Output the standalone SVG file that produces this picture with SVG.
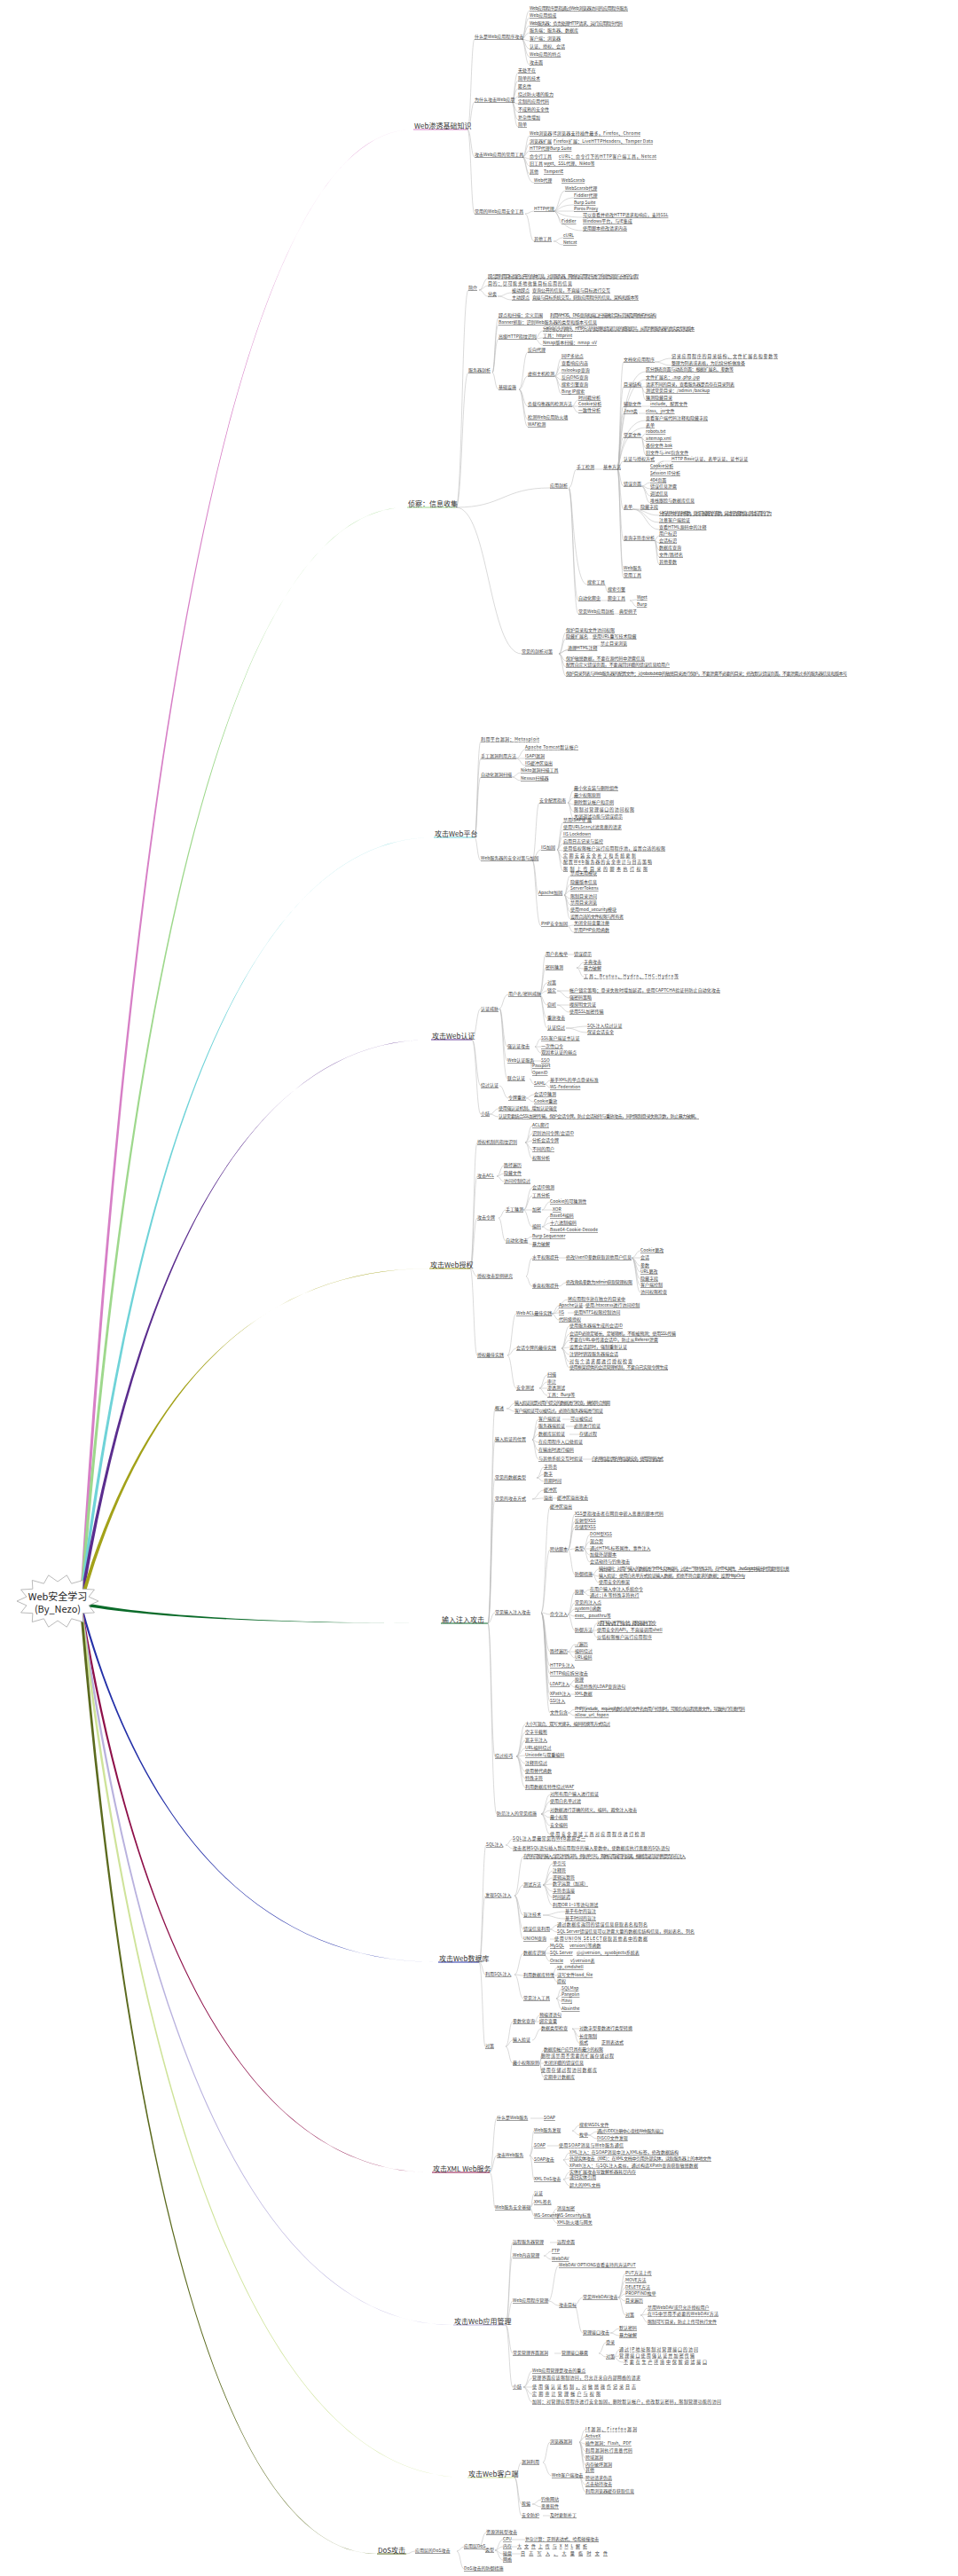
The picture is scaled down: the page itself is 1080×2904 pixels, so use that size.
<svg xmlns="http://www.w3.org/2000/svg" width="1080" height="2904" viewBox="0 0 1080 2904">
<style>
text{font-family:"Noto Sans CJK SC","Noto Sans",sans-serif;fill:#3a3a3a}
.t{font-size:5px;text-decoration:underline}
.m{font-size:8px;fill:#333}
.r{font-size:11px;fill:#222}
.c{fill:none;stroke:#b5b5b5;stroke-width:.5}
.u{fill:none;stroke-width:1}
</style>
<rect width="1080" height="2904" fill="#fff"/>
<g id="branches">
<path fill="#d77fc6" d="M93.6 1799.6C149 889 260 145.5 466 146C260 146.5 147 889 90.4 1796.4Z"/>
<path fill="#9ed88c" d="M93.6 1799.6C148 1124 257 571.5 459 572C257 572.5 146 1124 90.4 1796.4Z"/>
<path fill="#6fd3d8" d="M93.6 1801.6C153 1329 271 943.5 489 944C271 944.5 151 1329 90.4 1798.4Z"/>
<path fill="#5b2d8e" d="M93.6 1803.6C152 1455 269 1171.5 486 1172C269 1172.5 150 1455 90.4 1800.4Z"/>
<path fill="#a3a21a" d="M93.6 1805.6C152 1598 268 1429.5 484 1430C268 1430.5 150 1598 90.4 1802.4Z"/>
<path fill="#0b6b2a" d="M92 1810C153 1821 274 1830.5 497 1830C274 1829.5 153 1819 92 1806Z"/>
<path fill="#2430a8" d="M93.6 1813.6C153 2032 273 2211.5 494 2212C273 2212.5 151 2032 90.4 1810.4Z"/>
<path fill="#8e1049" d="M93.6 1815.6C152 2163 270 2448.5 487 2449C270 2449.5 150 2163 90.4 1812.4Z"/>
<path fill="#b9b2de" d="M93.6 1817.6C156 2259 281 2620.5 511 2621C281 2621.5 154 2259 90.4 1814.4Z"/>
<path fill="#cfe39a" d="M93.6 1819.6C158 2354 288 2792.5 527 2793C288 2793.5 156 2354 90.4 1816.4Z"/>
<path fill="#5b6a1e" d="M93.6 1821.6C143 2402 242 2878.5 425 2879C242 2879.5 141 2402 90.4 1818.4Z"/>
<path class="u" stroke="#d77fc6" d="M466 146H527"/>
<path class="u" stroke="#9ed88c" d="M459 572H514"/>
<path class="u" stroke="#6fd3d8" d="M489 944H535"/>
<path class="u" stroke="#5b2d8e" d="M486 1172H532"/>
<path class="u" stroke="#a3a21a" d="M484 1430H530"/>
<path class="u" stroke="#0b6b2a" d="M497 1830H550"/>
<path class="u" stroke="#2430a8" d="M494 2212H540"/>
<path class="u" stroke="#8e1049" d="M487 2449H552"/>
<path class="u" stroke="#b9b2de" d="M511 2621H570"/>
<path class="u" stroke="#cfe39a" d="M527 2793H580"/>
<path class="u" stroke="#5b6a1e" d="M425 2879H458"/>
</g>
<g id="connectors" class="c">
<path d="M527 146C531 146 531 44 535 44M527 146C531 146 531 115 535 115M527 146C531 146 531 177 535 177M527 146C531 146 531 241 535 241M588 44C592 44 592 12 597 12M588 44C592 44 592 20 597 20M588 44C592 44 592 29 597 29M588 44C592 44 592 37 597 37M588 44C592 44 592 46 597 46M588 44C592 44 592 55 597 55M588 44C592 44 592 64 597 64M588 44C592 44 592 73 597 73M577 115C580 115 580 82 584 82M577 115C580 115 580 91 584 91M577 115C580 115 580 100 584 100M577 115C580 115 580 109 584 109M577 115C580 115 580 117 584 117M577 115C580 115 580 126 584 126M577 115C580 115 580 135 584 135M577 115C580 115 580 143 584 143M589 177C593 177 593 153 597 153M589 177C593 177 593 162 597 162M589 177C593 177 593 170 597 170M589 177C593 177 593 179 597 179M589 177C593 177 593 187 597 187M589 177C593 177 593 196 597 196M589 177C593 177 593 206 602 206M592 241C597 241 597 238 602 238M592 241C597 241 597 272 602 272M624 238C630 238 630 215 637 215M624 238C630 238 630 223 647 223M624 238C630 238 630 231 647 231M624 238C630 238 630 238 647 238M624 238C630 238 630 245 657 245M624 238C630 238 630 252 633 252M624 238C630 238 630 260 657 260M624 272C629 272 629 268 635 268M624 272C629 272 629 276 635 276"/>
<path d="M514 572C521 572 521 327 528 327M514 572C521 572 521 420 528 420M514 572C567 572 567 550 620 550M514 572C551 572 551 737 588 737M540 327C545 327 545 314 550 314M540 327C545 327 545 322 550 322M540 327C545 327 545 334 550 334M561 334C569 334 569 330 577 330M561 334C569 334 569 338 577 338M555 420C558 420 558 358 562 358M555 420C558 420 558 366 562 366M555 420C558 420 558 382 562 382M555 420C558 420 558 439 562 439M603 382C607 382 607 373 612 373M603 382C607 382 607 381 612 381M603 382C607 382 607 389 612 389M585 439C590 439 590 397 595 397M585 439C590 439 590 424 595 424M585 439C590 439 590 458 595 458M585 439C590 439 590 473 595 473M585 439C590 439 590 481 595 481M625 424C629 424 629 404 633 404M625 424C629 424 629 412 633 412M625 424C629 424 629 420 633 420M625 424C629 424 629 428 633 428M625 424C629 424 629 436 633 436M625 424C629 424 629 444 633 444M645 458C648 458 648 451 652 451M645 458C648 458 648 458 652 458M645 458C648 458 648 465 652 465M641 550C646 550 646 529 650 529M641 550C646 550 646 659 662 659M641 550C646 550 646 677 652 677M641 550C646 550 646 692 652 692M696 529C699 529 699 408 703 408M696 529C699 529 699 419 728 419M696 529C699 529 699 428 728 428M696 529C699 529 699 436 703 436M696 529C699 529 699 458 703 458M696 529C699 529 699 466 703 466M696 529C699 529 699 474 728 474M696 529C699 529 699 482 728 482M696 529C699 529 699 493 703 493M696 529C699 529 699 520 703 520M696 529C699 529 699 548 703 548M696 529C699 529 699 574 703 574M696 529C699 529 699 609 703 609M696 529C699 529 699 643 703 643M696 529C699 529 699 651 703 651M738 408C747 408 747 404 757 404M738 408C747 408 747 412 757 412M723 436H728M723 436C725 436 725 443 728 443M723 436C725 436 725 451 728 451M723 458H733M720 466H728M723 493C725 493 725 489 728 489M723 493C725 493 725 497 728 497M723 493C725 493 725 505 728 505M723 493C725 493 725 513 728 513M748 520H757M748 520C740 520 740 528 733 528M748 520C740 520 740 536 733 536M723 548C728 548 728 544 733 544M723 548C728 548 728 551 733 551M723 548C728 548 728 559 733 559M723 548C728 548 728 567 733 567M713 574H722M713 574C728 574 728 581 743 581M713 574C728 574 728 589 743 589M713 574C728 574 728 597 743 597M738 609C740 609 740 604 743 604M738 609C740 609 740 612 743 612M738 609C740 609 740 620 743 620M738 609C740 609 740 628 743 628M738 609C740 609 740 636 743 636M682 659C683 659 683 667 685 667M677 677H685M710 677C714 677 714 676 718 676M710 677C714 677 714 684 718 684M690 692H698M670 529H680M630 737C634 737 634 713 638 713M630 737C634 737 634 720 638 720M630 737C634 737 634 733 640 733M630 737C634 737 634 728 677 728M630 737C634 737 634 745 638 745M630 737C634 737 634 752 638 752M630 737C634 737 634 762 638 762M663 720H668"/>
<path d="M535 944C538 944 538 836 542 836M535 944C538 944 538 855 542 855M535 944C538 944 538 876 542 876M535 944C538 944 538 970 542 970M582 855C587 855 587 845 592 845M582 855C587 855 587 855 592 855M582 855C587 855 587 863 592 863M577 876C582 876 582 871 587 871M577 876C582 876 582 880 587 880M600 970C604 970 604 905 608 905M600 970C604 970 604 958 610 958M600 970C604 970 604 1009 607 1009M600 970C604 970 604 1044 610 1044M640 905C643 905 643 891 647 891M640 905C643 905 643 899 647 899M640 905C643 905 643 907 647 907M640 905C643 905 643 915 647 915M640 905C643 905 643 923 647 923M628 958C631 958 631 927 635 927M628 958C631 958 631 935 635 935M628 958C631 958 631 943 635 943M628 958C631 958 631 951 635 951M628 958C631 958 631 959 635 959M628 958C631 958 631 967 635 967M628 958C631 958 631 974 635 974M628 958C631 958 631 982 635 982M636 1009C639 1009 639 987 643 987M636 1009C639 1009 639 997 643 997M636 1009C639 1009 639 1004 643 1004M636 1009C639 1009 639 1013 643 1013M636 1009C639 1009 639 1020 643 1020M636 1009C639 1009 639 1028 643 1028M636 1009C639 1009 639 1036 643 1036M640 1044C643 1044 643 1043 647 1043M640 1044C643 1044 643 1051 647 1051"/>
<path d="M532 1172C537 1172 537 1137 542 1137M532 1172C537 1172 537 1224 542 1224M532 1172C537 1172 537 1256 542 1256M563 1137C567 1137 567 1121 573 1121M563 1137C567 1137 567 1180 572 1180M563 1137C567 1137 567 1196 572 1196M563 1137C567 1137 567 1216 572 1216M608 1121C612 1121 612 1076 615 1076M608 1121C612 1121 612 1091 615 1091M608 1121C612 1121 612 1108 617 1108M608 1121C612 1121 612 1117 617 1117M608 1121C612 1121 612 1133 617 1133M608 1121C612 1121 612 1148 617 1148M608 1121C612 1121 612 1159 617 1159M640 1076H647M650 1091C654 1091 654 1085 658 1085M650 1091C654 1091 654 1092 658 1092M650 1091C654 1091 654 1101 658 1101M628 1117H642M628 1117C635 1117 635 1125 642 1125M628 1133H642M628 1133C635 1133 635 1141 642 1141M638 1159C650 1159 650 1157 662 1157M638 1159C650 1159 650 1164 662 1164M603 1180C606 1180 606 1171 610 1171M603 1180C606 1180 606 1180 610 1180M603 1180C606 1180 606 1187 610 1187M598 1196H610M598 1196C599 1196 599 1202 600 1202M598 1196C599 1196 599 1210 600 1210M597 1216C599 1216 599 1222 602 1222M614 1222C617 1222 617 1218 620 1218M614 1222C617 1222 617 1226 620 1226M563 1224C568 1224 568 1238 573 1238M593 1238C597 1238 597 1234 602 1234M593 1238C597 1238 597 1242 602 1242M552 1256C557 1256 557 1250 562 1250M552 1256C557 1256 557 1259 562 1259"/>
<path d="M530 1430C534 1430 534 1288 538 1288M530 1430C534 1430 534 1326 538 1326M530 1430C534 1430 534 1373 538 1373M530 1430C534 1430 534 1439 538 1439M530 1430C534 1430 534 1528 538 1528M592 1288C596 1288 596 1269 600 1269M592 1288C596 1288 596 1278 600 1278M592 1288C596 1288 596 1286 600 1286M592 1288C596 1288 596 1296 600 1296M592 1288C596 1288 596 1306 600 1306M560 1326C564 1326 564 1314 568 1314M560 1326C564 1326 564 1323 568 1323M560 1326C564 1326 564 1332 568 1332M562 1373C566 1373 566 1364 570 1364M562 1373C566 1373 566 1399 570 1399M590 1364C595 1364 595 1339 600 1339M590 1364C595 1364 595 1348 600 1348M590 1364C595 1364 595 1364 600 1364M590 1364C595 1364 595 1383 600 1383M611 1364C615 1364 615 1355 620 1355M611 1364H623M611 1383C615 1383 615 1371 620 1371M611 1383C615 1383 615 1379 620 1379M611 1383C615 1383 615 1387 620 1387M590 1399C595 1399 595 1394 600 1394M590 1399C595 1399 595 1403 600 1403M593 1439C596 1439 596 1418 600 1418M593 1439C596 1439 596 1450 600 1450M630 1418H638M630 1450C634 1450 634 1446 638 1446M712 1418C717 1418 717 1410 722 1410M712 1418C717 1418 717 1418 722 1418M712 1418C717 1418 717 1427 722 1427M712 1418C717 1418 717 1434 722 1434M712 1418C717 1418 717 1442 722 1442M712 1418C717 1418 717 1449 722 1449M712 1418C717 1418 717 1457 722 1457M572 1528C577 1528 577 1481 582 1481M572 1528C577 1528 577 1520 582 1520M572 1528C577 1528 577 1565 582 1565M622 1481C631 1481 631 1465 640 1465M622 1481C626 1481 626 1472 630 1472M622 1481C626 1481 626 1480 630 1480M622 1481C626 1481 626 1488 630 1488M650 1472H660M640 1480H647M633 1520C637 1520 637 1495 642 1495M633 1520C637 1520 637 1504 642 1504M633 1520C637 1520 637 1511 642 1511M633 1520C637 1520 637 1519 642 1519M633 1520C637 1520 637 1527 642 1527M633 1520C637 1520 637 1535 642 1535M633 1520C637 1520 637 1542 642 1542M608 1565C612 1565 612 1550 617 1550M608 1565C612 1565 612 1558 617 1558M608 1565C612 1565 612 1565 617 1565M608 1565C612 1565 612 1573 617 1573"/>
<path d="M550 1830C554 1830 554 1588 558 1588M550 1830C554 1830 554 1623 558 1623M550 1830C554 1830 554 1666 558 1666M550 1830C554 1830 554 1690 558 1690M550 1830C554 1830 554 1818 558 1818M550 1830C554 1830 554 1980 558 1980M550 1830C554 1830 554 2045 560 2045M571 1588C576 1588 576 1582 580 1582M571 1588C576 1588 576 1591 580 1591M600 1623C603 1623 603 1600 607 1600M600 1623C603 1623 603 1608 607 1608M600 1623C603 1623 603 1617 607 1617M600 1623C603 1623 603 1626 607 1626M600 1623C603 1623 603 1635 607 1635M600 1623C603 1623 603 1645 607 1645M634 1600H643M638 1608H647M642 1617H653M657 1645H667M605 1666C609 1666 609 1654 613 1654M605 1666C609 1666 609 1662 613 1662M605 1666C609 1666 609 1670 613 1670M600 1690C606 1690 606 1680 613 1680M600 1690C606 1690 606 1689 613 1689M623 1689H628M610 1818C615 1818 615 1699 620 1699M610 1818C615 1818 615 1747 620 1747M610 1818C615 1818 615 1820 620 1820M610 1818C615 1818 615 1862 620 1862M610 1818C615 1818 615 1878 620 1878M610 1818C615 1818 615 1887 620 1887M610 1818C615 1818 615 1899 620 1899M610 1818C615 1818 615 1910 620 1910M610 1818C615 1818 615 1918 620 1918M610 1818C615 1818 615 1931 620 1931M640 1747C644 1747 644 1707 648 1707M640 1747C644 1747 644 1715 648 1715M640 1747C644 1747 644 1722 648 1722M640 1747C644 1747 644 1746 648 1746M640 1747C644 1747 644 1775 648 1775M658 1746C661 1746 661 1730 665 1730M658 1746C661 1746 661 1738 665 1738M658 1746C661 1746 661 1746 665 1746M658 1746C661 1746 661 1753 665 1753M658 1746C661 1746 661 1761 665 1761M668 1775C671 1775 671 1769 675 1769M668 1775C671 1775 671 1777 675 1777M668 1775C671 1775 671 1784 675 1784M640 1820C644 1820 644 1795 648 1795M640 1820C644 1820 644 1807 648 1807M640 1820C644 1820 644 1814 648 1814M640 1820C644 1820 644 1822 648 1822M640 1820C644 1820 644 1838 648 1838M658 1795C661 1795 661 1792 665 1792M658 1795C661 1795 661 1799 665 1799M668 1838C670 1838 670 1830 673 1830M668 1838C670 1838 670 1838 673 1838M668 1838C670 1838 670 1846 673 1846M640 1862C644 1862 644 1854 648 1854M640 1862C644 1862 644 1862 648 1862M640 1862C644 1862 644 1869 648 1869M642 1899C645 1899 645 1894 648 1894M642 1899C645 1899 645 1902 648 1902M642 1910H648M640 1931C644 1931 644 1927 648 1927M640 1931C644 1931 644 1934 648 1934M582 1980C587 1980 587 1944 592 1944M582 1980C587 1980 587 1953 592 1953M582 1980C587 1980 587 1962 592 1962M582 1980C587 1980 587 1971 592 1971M582 1980C587 1980 587 1979 592 1979M582 1980C587 1980 587 1988 592 1988M582 1980C587 1980 587 1997 592 1997M582 1980C587 1980 587 2005 592 2005M582 1980C587 1980 587 2015 592 2015M610 2045C615 2045 615 2023 620 2023M610 2045C615 2045 615 2031 620 2031M610 2045C615 2045 615 2041 620 2041M610 2045C615 2045 615 2049 620 2049M610 2045C615 2045 615 2058 620 2058M610 2045C615 2045 615 2068 620 2068"/>
<path d="M540 2212C544 2212 544 2080 548 2080M540 2212C544 2212 544 2137 547 2137M540 2212C544 2212 544 2226 547 2226M540 2212C544 2212 544 2307 547 2307M570 2080C574 2080 574 2073 578 2073M570 2080C574 2080 574 2084 578 2084M580 2137C585 2137 585 2093 590 2093M580 2137C585 2137 585 2125 590 2125M580 2137C585 2137 585 2159 590 2159M580 2137C585 2137 585 2175 590 2175M580 2137C585 2137 585 2186 590 2186M612 2125C617 2125 617 2101 623 2101M612 2125C617 2125 617 2109 623 2109M612 2125C617 2125 617 2117 623 2117M612 2125C617 2125 617 2124 623 2124M612 2125C617 2125 617 2132 623 2132M612 2125C617 2125 617 2139 623 2139M612 2125C617 2125 617 2148 623 2148M612 2159C624 2159 624 2155 637 2155M612 2159C624 2159 624 2163 637 2163M620 2175C624 2175 624 2170 628 2170M620 2175C624 2175 624 2178 628 2178M620 2186H625M580 2226C585 2226 585 2202 590 2202M580 2226C585 2226 585 2227 590 2227M580 2226C585 2226 585 2253 590 2253M612 2202C616 2202 616 2194 620 2194M612 2202C616 2202 616 2202 620 2202M612 2202C616 2202 616 2211 620 2211M622 2227C625 2227 625 2218 628 2218M622 2227C625 2227 625 2227 628 2227M622 2227C625 2227 625 2234 628 2234M627 2253C630 2253 630 2242 633 2242M627 2253C630 2253 630 2249 633 2249M627 2253C630 2253 630 2256 633 2256M627 2253C630 2253 630 2265 633 2265M570 2307C574 2307 574 2279 578 2279M570 2307C574 2307 574 2300 578 2300M570 2307C574 2307 574 2326 578 2326M603 2279C605 2279 605 2272 608 2272M603 2279C605 2279 605 2279 608 2279M600 2300C605 2300 605 2287 610 2287M645 2287H653M645 2287C649 2287 649 2296 653 2296M645 2287C649 2287 649 2303 653 2303M608 2326C610 2326 610 2311 613 2311M608 2326C610 2326 610 2318 610 2318M608 2326C610 2326 610 2326 613 2326M608 2326C610 2326 610 2334 610 2334M608 2326C610 2326 610 2342 613 2342"/>
<path d="M552 2449C556 2449 556 2388 560 2388M552 2449C556 2449 556 2430 560 2430M552 2449C556 2449 556 2489 558 2489M598 2388H613M597 2430C600 2430 600 2402 602 2402M597 2430C600 2430 600 2419 602 2419M597 2430C600 2430 600 2435 602 2435M597 2430C600 2430 600 2457 602 2457M645 2402C649 2402 649 2396 653 2396M645 2402C649 2402 649 2407 653 2407M663 2407C668 2407 668 2403 673 2403M663 2407C668 2407 668 2411 673 2411M617 2419H630M635 2435C638 2435 638 2427 642 2427M635 2435C638 2435 638 2434 642 2434M635 2435C638 2435 638 2442 642 2442M635 2457C638 2457 638 2449 642 2449M635 2457C638 2457 638 2455 642 2455M635 2457C638 2457 638 2464 642 2464M597 2489C600 2489 600 2473 602 2473M597 2489C600 2489 600 2483 602 2483M597 2489C600 2489 600 2498 602 2498M620 2498C624 2498 624 2490 628 2490M620 2498C624 2498 624 2498 628 2498M620 2498C624 2498 624 2506 628 2506"/>
<path d="M570 2621C574 2621 574 2528 578 2528M570 2621C574 2621 574 2543 578 2543M570 2621C574 2621 574 2594 578 2594M570 2621C574 2621 574 2653 578 2653M570 2621C574 2621 574 2691 578 2691M620 2528H628M613 2543C617 2543 617 2538 622 2538M613 2543C617 2543 617 2547 622 2547M618 2594C624 2594 624 2554 630 2554M618 2594C624 2594 624 2599 630 2599M698 2554H707M647 2599C652 2599 652 2590 657 2590M647 2599C652 2599 652 2630 657 2630M697 2590C701 2590 701 2563 705 2563M697 2590C701 2590 701 2571 705 2571M697 2590C701 2590 701 2579 705 2579M697 2590C701 2590 701 2586 705 2586M697 2590C701 2590 701 2594 705 2594M697 2590C701 2590 701 2610 705 2610M722 2610C726 2610 726 2602 730 2602M722 2610C726 2610 726 2609 730 2609M722 2610C726 2610 726 2618 730 2618M688 2630C693 2630 693 2625 698 2625M688 2630C693 2630 693 2633 698 2633M625 2653H633M675 2653C679 2653 679 2641 683 2641M675 2653C679 2653 679 2657 683 2657M692 2657C695 2657 695 2649 698 2649M692 2657C695 2657 695 2656 698 2656M692 2657C695 2657 695 2663 703 2663M590 2691C595 2691 595 2673 600 2673M590 2691C595 2691 595 2681 600 2681M590 2691C595 2691 595 2691 600 2691M590 2691C595 2691 595 2699 600 2699M590 2691C595 2691 595 2708 600 2708"/>
<path d="M580 2793C584 2793 584 2776 588 2776M580 2793C584 2793 584 2823 588 2823M580 2793C584 2793 584 2836 588 2836M612 2776C616 2776 616 2753 620 2753M612 2776C616 2776 616 2791 622 2791M653 2753C656 2753 656 2739 660 2739M653 2753C656 2753 656 2747 660 2747M653 2753C656 2753 656 2755 660 2755M653 2753C656 2753 656 2763 660 2763M653 2753C656 2753 656 2771 660 2771M653 2753C656 2753 656 2779 660 2779M653 2753C656 2753 656 2785 660 2785M652 2791C656 2791 656 2794 660 2794M652 2791C656 2791 656 2801 660 2801M652 2791C656 2791 656 2809 660 2809M600 2823C605 2823 605 2818 610 2818M600 2823C605 2823 605 2826 610 2826M612 2836H620"/>
<path d="M458 2879C463 2879 463 2876 468 2876M515 2876C519 2876 519 2871 523 2871M515 2876C519 2876 519 2896 523 2896M540 2871C544 2871 544 2855 548 2855M540 2871C544 2871 544 2875 547 2875M558 2875C562 2875 562 2863 567 2863M558 2875C562 2875 562 2871 567 2871M558 2875C562 2875 562 2879 567 2879M558 2875C562 2875 562 2886 567 2886M577 2863H592M577 2871H583M577 2879H587"/>
</g>
<g id="node-b1">
<text class="m" x="467" y="145">Web渗透基础知识</text>
<text class="t" x="535" y="43">什么是Web应用程序攻击</text>
<text class="t" x="597" y="11" textLength="111">Web应用程序是指通过Web浏览器访问的应用程序服务</text>
<text class="t" x="597" y="19">Web应用组成</text>
<text class="t" x="597" y="28" textLength="105">Web服务器：负责处理HTTP请求、运行应用程序代码</text>
<text class="t" x="597" y="36">服务端：服务器、数据库</text>
<text class="t" x="597" y="45">客户端：浏览器</text>
<text class="t" x="597" y="54">认证、授权、会话</text>
<text class="t" x="597" y="63">Web应用的特点</text>
<text class="t" x="597" y="72">攻击面</text>
<text class="t" x="535" y="114">为什么攻击Web应用</text>
<text class="t" x="584" y="81">无处不在</text>
<text class="t" x="584" y="90">简单的技术</text>
<text class="t" x="584" y="99">匿名性</text>
<text class="t" x="584" y="108">绕过防火墙的能力</text>
<text class="t" x="584" y="116">定制的应用代码</text>
<text class="t" x="584" y="125">不成熟的安全性</text>
<text class="t" x="584" y="134">复杂性增加</text>
<text class="t" x="584" y="142">简单</text>
<text class="t" x="535" y="176">攻击Web应用的常用工具</text>
<text class="t" x="597" y="152">Web浏览器</text>
<text class="t" x="623" y="152" textLength="99">IE浏览器支持插件最多，Firefox、Chrome</text>
<text class="t" x="597" y="161">浏览器扩展</text>
<text class="t" x="624" y="161" textLength="112">Firefox扩展：LiveHTTPHeaders、Tamper Data</text>
<text class="t" x="597" y="169">HTTP代理</text>
<text class="t" x="620" y="169">Burp Suite</text>
<text class="t" x="597" y="178">命令行工具</text>
<text class="t" x="630" y="178" textLength="110">cURL：命令行下的HTTP客户端工具，Netcat</text>
<text class="t" x="597" y="186">旧工具</text>
<text class="t" x="613" y="186">wget、SSL代理、Nikto等</text>
<text class="t" x="597" y="195">其他</text>
<text class="t" x="613" y="195">TamperIE</text>
<text class="t" x="602" y="205">Web代理</text>
<text class="t" x="633" y="205">WebScarab</text>
<text class="t" x="535" y="240">常用的Web应用安全工具</text>
<text class="t" x="602" y="237">HTTP代理</text>
<text class="t" x="637" y="214">WebScarab代理</text>
<text class="t" x="647" y="222">Fiddler代理</text>
<text class="t" x="647" y="230">Burp Suite</text>
<text class="t" x="647" y="237">Paros Proxy</text>
<text class="t" x="657" y="244">可以查看并修改HTTP请求和响应，支持SSL</text>
<text class="t" x="633" y="251">Fiddler</text>
<text class="t" x="657" y="251">Windows平台，与IE集成</text>
<text class="t" x="657" y="259">使用脚本修改请求内容</text>
<text class="t" x="602" y="271">其他工具</text>
<text class="t" x="635" y="267">cURL</text>
<text class="t" x="635" y="275">Netcat</text>
</g>
<g id="node-b2">
<text class="m" x="460" y="571">侦察：信息收集</text>
<text class="t" x="528" y="326">简介</text>
<text class="t" x="550" y="313" textLength="170">踩点是利用目标组织公开的各种信息，对其服务器、网络和应用程序进行系统性调查与分析的过程</text>
<text class="t" x="550" y="321" textLength="95">目的：尽可能多地收集目标应用的信息</text>
<text class="t" x="550" y="333">分类</text>
<text class="t" x="577" y="329">被动踩点</text>
<text class="t" x="600" y="329" textLength="88">查询公开的信息，不直接与目标进行交互</text>
<text class="t" x="577" y="337">主动踩点</text>
<text class="t" x="600" y="337" textLength="120">直接与目标系统交互，获取应用程序的信息、架构和版本等</text>
<text class="t" x="528" y="419">服务器剖析</text>
<text class="t" x="562" y="357">踩点和扫描：定义范围</text>
<text class="t" x="620" y="357" textLength="120">利用WHOIS、DNS查询和端口扫描确定目标范围及网络拓扑结构</text>
<text class="t" x="562" y="365" textLength="111">Banner抓取：识别Web服务器的类型和版本号信息</text>
<text class="t" x="562" y="381">高级HTTP指纹识别</text>
<text class="t" x="612" y="372" textLength="171">分析响应头的顺序、HTTP方法的处理和错误信息的细微差异，从而判断服务器的真实类型和版本</text>
<text class="t" x="612" y="380">工具：httprint</text>
<text class="t" x="612" y="388">Nmap版本扫描：nmap -sV</text>
<text class="t" x="562" y="438">基础设施</text>
<text class="t" x="595" y="396">反向代理</text>
<text class="t" x="595" y="423">虚拟主机检测</text>
<text class="t" x="633" y="403">同IP多站点</text>
<text class="t" x="633" y="411">查看响应内容</text>
<text class="t" x="633" y="419">nslookup查询</text>
<text class="t" x="633" y="427">反向DNS查询</text>
<text class="t" x="633" y="435">搜索引擎查询</text>
<text class="t" x="633" y="443">Bing IP搜索</text>
<text class="t" x="595" y="457">负载均衡器的检测方法</text>
<text class="t" x="652" y="450">时间戳分析</text>
<text class="t" x="652" y="457">Cookie分析</text>
<text class="t" x="652" y="464">一致性分析</text>
<text class="t" x="595" y="472">检测Web应用防火墙</text>
<text class="t" x="595" y="480">WAF检测</text>
<text class="t" x="620" y="549">应用剖析</text>
<text class="t" x="650" y="528">手工检测</text>
<text class="t" x="680" y="528">基本方法</text>
<text class="t" x="703" y="407">文档化应用程序</text>
<text class="t" x="757" y="403" textLength="120">记录应用程序的目录结构、文件扩展名和参数等</text>
<text class="t" x="757" y="411" textLength="83">整理为列表或表格，为后续分析做准备</text>
<text class="t" x="728" y="418" textLength="99">区分静态页面与动态页面：根据扩展名、参数等</text>
<text class="t" x="728" y="427">文件扩展名：.asp .php .jsp</text>
<text class="t" x="703" y="435">目录结构</text>
<text class="t" x="728" y="435" textLength="100">请求不同的目录，查看服务器是否存在目录列表</text>
<text class="t" x="728" y="442">测试常见目录：/admin /backup</text>
<text class="t" x="728" y="450">猜测隐藏目录</text>
<text class="t" x="703" y="457">辅助文件</text>
<text class="t" x="733" y="457">include、配置文件</text>
<text class="t" x="703" y="465">Java类</text>
<text class="t" x="728" y="465">class、jar文件</text>
<text class="t" x="728" y="473">查看客户端代码注释和隐藏字段</text>
<text class="t" x="728" y="481">表单</text>
<text class="t" x="703" y="492">常见文件</text>
<text class="t" x="728" y="488">robots.txt</text>
<text class="t" x="728" y="496">sitemap.xml</text>
<text class="t" x="728" y="504">备份文件.bak</text>
<text class="t" x="728" y="512">旧文件与.inc包含文件</text>
<text class="t" x="703" y="519">认证与授权方式</text>
<text class="t" x="757" y="519">HTTP Basic认证、表单认证、证书认证</text>
<text class="t" x="733" y="527">Cookie分析</text>
<text class="t" x="733" y="535">Session ID分析</text>
<text class="t" x="703" y="547">错误页面</text>
<text class="t" x="733" y="543">404页面</text>
<text class="t" x="733" y="550">错误信息泄露</text>
<text class="t" x="733" y="558">调试信息</text>
<text class="t" x="733" y="566">堆栈跟踪与数据库信息</text>
<text class="t" x="703" y="573">表单</text>
<text class="t" x="722" y="573">隐藏字段</text>
<text class="t" x="743" y="580" textLength="127">分析表单中的各种参数，查找可被篡改的参数，尝试修改参数值以测试应用的行为</text>
<text class="t" x="743" y="588">注意客户端验证</text>
<text class="t" x="743" y="596">查看HTML源码中的注释</text>
<text class="t" x="703" y="608">查询字符串分析</text>
<text class="t" x="743" y="603">用户标识</text>
<text class="t" x="743" y="611">会话标识</text>
<text class="t" x="743" y="619">数据库查询</text>
<text class="t" x="743" y="627">文件/路径名</text>
<text class="t" x="743" y="635">其他参数</text>
<text class="t" x="703" y="642">Web服务</text>
<text class="t" x="703" y="650">常用工具</text>
<text class="t" x="662" y="658">搜索工具</text>
<text class="t" x="685" y="666">搜索引擎</text>
<text class="t" x="652" y="676">自动化爬虫</text>
<text class="t" x="685" y="676">爬虫工具</text>
<text class="t" x="718" y="675">Wget</text>
<text class="t" x="718" y="683">Burp</text>
<text class="t" x="652" y="691">常见Web应用剖析</text>
<text class="t" x="698" y="691">典型例子</text>
<text class="t" x="588" y="736">常见的剖析对策</text>
<text class="t" x="638" y="712">保护目录和文件访问权限</text>
<text class="t" x="638" y="719">隐藏扩展名</text>
<text class="t" x="668" y="719">使用URL重写技术隐藏</text>
<text class="t" x="677" y="727">禁止目录浏览</text>
<text class="t" x="640" y="732">清理HTML注释</text>
<text class="t" x="638" y="744" textLength="89">保护敏感数据，不要在源代码中泄露信息</text>
<text class="t" x="638" y="751" textLength="117">配置自定义错误页面，不要返回详细的错误信息给用户</text>
<text class="t" x="638" y="761" textLength="317">保护目录列表与Web服务器的配置文件；对robots.txt中的敏感目录进行保护，不要泄露不必要的目录；修改默认错误页面，不要泄露过多的服务器信息和版本号</text>
</g>
<g id="node-b3">
<text class="m" x="490" y="943">攻击Web平台</text>
<text class="t" x="542" y="835" textLength="66">利用平台漏洞：Metasploit</text>
<text class="t" x="542" y="854">手工漏洞利用方法</text>
<text class="t" x="592" y="844" textLength="60">Apache Tomcat默认帐户</text>
<text class="t" x="592" y="854">ISAPI漏洞</text>
<text class="t" x="592" y="862">IIS缓冲区溢出</text>
<text class="t" x="542" y="875">自动化漏洞扫描</text>
<text class="t" x="587" y="870">Nikto漏洞扫描工具</text>
<text class="t" x="587" y="879">Nessus扫描器</text>
<text class="t" x="542" y="969">Web服务器的安全对策与加固</text>
<text class="t" x="608" y="904">安全配置指南</text>
<text class="t" x="647" y="890">最小化安装与删除组件</text>
<text class="t" x="647" y="898">最少权限原则</text>
<text class="t" x="647" y="906">删除默认帐户和示例</text>
<text class="t" x="647" y="914" textLength="68">限制对管理接口的访问权限</text>
<text class="t" x="647" y="922">关闭调试功能与错误提示</text>
<text class="t" x="610" y="957">IIS加固</text>
<text class="t" x="635" y="926">禁用ISAPI扩展</text>
<text class="t" x="635" y="934">使用URLScan过滤恶意的请求</text>
<text class="t" x="635" y="942">IIS Lockdown</text>
<text class="t" x="635" y="950">启用日志记录与监控</text>
<text class="t" x="635" y="958" textLength="115">使用低权限帐户运行应用程序池，设置合适的权限</text>
<text class="t" x="635" y="966" textLength="82">定期安装安全补丁和系统更新</text>
<text class="t" x="635" y="973" textLength="100">配置Web服务器的安全审计与日志策略</text>
<text class="t" x="635" y="981" textLength="95">限制上传目录的脚本执行权限</text>
<text class="t" x="607" y="1008">Apache加固</text>
<text class="t" x="643" y="986">禁用无用模块</text>
<text class="t" x="643" y="996">隐藏版本信息</text>
<text class="t" x="643" y="1003">ServerTokens</text>
<text class="t" x="643" y="1012">限制目录访问</text>
<text class="t" x="643" y="1019">禁用目录浏览</text>
<text class="t" x="643" y="1027">使用mod_security模块</text>
<text class="t" x="643" y="1035" textLength="60">设置合适的文件权限与所有者</text>
<text class="t" x="610" y="1043">PHP安全加固</text>
<text class="t" x="647" y="1042">关闭全局变量注册</text>
<text class="t" x="647" y="1050">禁用PHP危险函数</text>
</g>
<g id="node-b4">
<text class="m" x="487" y="1171">攻击Web认证</text>
<text class="t" x="542" y="1139">认证威胁</text>
<text class="t" x="573" y="1122">用户名/密码威胁</text>
<text class="t" x="615" y="1077">用户名枚举</text>
<text class="t" x="647" y="1077">错误提示</text>
<text class="t" x="615" y="1092">密码猜测</text>
<text class="t" x="658" y="1086">字典攻击</text>
<text class="t" x="658" y="1093">暴力破解</text>
<text class="t" x="658" y="1102" textLength="107">工具：Brutus、Hydra、THC-Hydra等</text>
<text class="t" x="617" y="1109">对策</text>
<text class="t" x="617" y="1118">锁定</text>
<text class="t" x="642" y="1118" textLength="170">帐户锁定策略；登录失败时增加延迟，使用CAPTCHA验证码防止自动化攻击</text>
<text class="t" x="642" y="1126">强密码策略</text>
<text class="t" x="617" y="1134">窃听</text>
<text class="t" x="642" y="1134">嗅探明文凭证</text>
<text class="t" x="642" y="1142">使用SSL加密传输</text>
<text class="t" x="617" y="1149">重放攻击</text>
<text class="t" x="617" y="1160">认证绕过</text>
<text class="t" x="662" y="1158">SQL注入绕过认证</text>
<text class="t" x="662" y="1165">保证会话安全</text>
<text class="t" x="572" y="1181">强认证攻击</text>
<text class="t" x="610" y="1172">SSL客户端证书认证</text>
<text class="t" x="610" y="1181">一次性口令</text>
<text class="t" x="610" y="1188">双因素认证的弱点</text>
<text class="t" x="572" y="1197">Web认证服务</text>
<text class="t" x="610" y="1197">SSO</text>
<text class="t" x="600" y="1203">Passport</text>
<text class="t" x="600" y="1211">OpenID</text>
<text class="t" x="572" y="1217">联合认证</text>
<text class="t" x="602" y="1223">SAML</text>
<text class="t" x="620" y="1219">基于XML的单点登录标准</text>
<text class="t" x="620" y="1227">WS-Federation</text>
<text class="t" x="542" y="1225">绕过认证</text>
<text class="t" x="573" y="1239">令牌重放</text>
<text class="t" x="602" y="1235">会话ID猜测</text>
<text class="t" x="602" y="1243">Cookie重放</text>
<text class="t" x="542" y="1257">小结</text>
<text class="t" x="562" y="1251" textLength="66">使用强认证机制，增加认证强度</text>
<text class="t" x="562" y="1260" textLength="226">认证需要结合SSL加密传输，保护会话令牌，防止会话劫持与重放攻击，同时限制登录失败次数，防止暴力破解。</text>
</g>
<g id="node-b5">
<text class="m" x="485" y="1429">攻击Web授权</text>
<text class="t" x="538" y="1289">授权机制的指纹识别</text>
<text class="t" x="600" y="1270">ACL爬行</text>
<text class="t" x="600" y="1279">识别访问令牌/会话ID</text>
<text class="t" x="600" y="1287">分析会话令牌</text>
<text class="t" x="600" y="1297">不同的用户</text>
<text class="t" x="600" y="1307">权限分析</text>
<text class="t" x="538" y="1327">攻击ACL</text>
<text class="t" x="568" y="1315">路径遍历</text>
<text class="t" x="568" y="1324">隐藏文件</text>
<text class="t" x="568" y="1333">访问控制绕过</text>
<text class="t" x="538" y="1374">攻击令牌</text>
<text class="t" x="570" y="1365">手工猜测</text>
<text class="t" x="600" y="1340">会话ID预测</text>
<text class="t" x="600" y="1349">工具分析</text>
<text class="t" x="600" y="1365">加密</text>
<text class="t" x="620" y="1356">Cookie的可猜测性</text>
<text class="t" x="623" y="1365">XOR</text>
<text class="t" x="600" y="1384">编码</text>
<text class="t" x="620" y="1372">Base64编码</text>
<text class="t" x="620" y="1380">十六进制编码</text>
<text class="t" x="620" y="1388">Base64-Cookie-Decode</text>
<text class="t" x="570" y="1400">自动化攻击</text>
<text class="t" x="600" y="1395">Burp Sequencer</text>
<text class="t" x="600" y="1404">暴力破解</text>
<text class="t" x="538" y="1440">授权攻击案例研究</text>
<text class="t" x="600" y="1419">水平权限提升</text>
<text class="t" x="638" y="1419" textLength="74">修改UserID参数获取其他用户信息</text>
<text class="t" x="722" y="1411">Cookie篡改</text>
<text class="t" x="722" y="1419">会话</text>
<text class="t" x="722" y="1428">参数</text>
<text class="t" x="722" y="1435">URL篡改</text>
<text class="t" x="722" y="1443">隐藏字段</text>
<text class="t" x="722" y="1450">客户端控制</text>
<text class="t" x="722" y="1458">访问权限检查</text>
<text class="t" x="600" y="1451">垂直权限提升</text>
<text class="t" x="638" y="1447" textLength="75">修改角色参数为admin获取管理权限</text>
<text class="t" x="538" y="1529">授权最佳实践</text>
<text class="t" x="582" y="1482">Web ACL最佳实践</text>
<text class="t" x="640" y="1466">将应用程序放在独立的目录中</text>
<text class="t" x="630" y="1473">Apache认证</text>
<text class="t" x="660" y="1473">使用.htaccess进行访问控制</text>
<text class="t" x="630" y="1481">IIS</text>
<text class="t" x="647" y="1481">使用NTFS权限控制访问</text>
<text class="t" x="630" y="1489">代码级授权</text>
<text class="t" x="582" y="1521">会话令牌的最佳实践</text>
<text class="t" x="642" y="1496">使用服务器端生成的会话ID</text>
<text class="t" x="642" y="1505" textLength="120">会话ID必须足够长、足够随机，不能被预测；使用SSL传输</text>
<text class="t" x="642" y="1512" textLength="100">不要在URL中传递会话ID，防止从Referer泄露</text>
<text class="t" x="642" y="1520">设置会话超时，强制重新认证</text>
<text class="t" x="642" y="1528">注销时销毁服务器端会话</text>
<text class="t" x="642" y="1536" textLength="71">对每个请求都进行授权检查</text>
<text class="t" x="642" y="1543" textLength="111">使用框架提供的会话管理机制，不要自己实现令牌生成</text>
<text class="t" x="582" y="1566">安全测试</text>
<text class="t" x="617" y="1551">扫描</text>
<text class="t" x="617" y="1559">审计</text>
<text class="t" x="617" y="1566">渗透测试</text>
<text class="t" x="617" y="1574">工具：Burp等</text>
</g>
<g id="node-b6">
<text class="m" x="498" y="1829">输入注入攻击</text>
<text class="t" x="558" y="1589">概述</text>
<text class="t" x="580" y="1583" textLength="108">输入验证就是对用户提交的数据进行检查，确保符合预期</text>
<text class="t" x="580" y="1592" textLength="100">客户端验证可以被绕过，必须在服务器端进行验证</text>
<text class="t" x="558" y="1624">输入验证的位置</text>
<text class="t" x="607" y="1601">客户端验证</text>
<text class="t" x="643" y="1601">可以被绕过</text>
<text class="t" x="607" y="1609">服务器端验证</text>
<text class="t" x="647" y="1609">必须进行验证</text>
<text class="t" x="607" y="1618">数据库层验证</text>
<text class="t" x="653" y="1618">存储过程</text>
<text class="t" x="607" y="1627">在应用程序入口处验证</text>
<text class="t" x="607" y="1636">在输出时进行编码</text>
<text class="t" x="607" y="1646">与其他系统交互时验证</text>
<text class="t" x="667" y="1646" textLength="81">白名单验证比黑名单验证更安全，使用正则表达式</text>
<text class="t" x="558" y="1667">常见的数据类型</text>
<text class="t" x="613" y="1655">字符串</text>
<text class="t" x="613" y="1663">数字</text>
<text class="t" x="613" y="1671">日期时间</text>
<text class="t" x="558" y="1691">常见的攻击方式</text>
<text class="t" x="613" y="1681">缓冲区</text>
<text class="t" x="613" y="1690">溢出</text>
<text class="t" x="628" y="1690">缓冲区溢出攻击</text>
<text class="t" x="558" y="1819">常见输入注入攻击</text>
<text class="t" x="620" y="1700">缓冲区溢出</text>
<text class="t" x="620" y="1748">跨站脚本</text>
<text class="t" x="648" y="1708" textLength="100">XSS是指攻击者在网页中嵌入恶意的脚本代码</text>
<text class="t" x="648" y="1716">反射型XSS</text>
<text class="t" x="648" y="1723">存储型XSS</text>
<text class="t" x="648" y="1747">类型</text>
<text class="t" x="665" y="1731">DOM型XSS</text>
<text class="t" x="665" y="1739">混合型</text>
<text class="t" x="665" y="1747">通过HTML标签属性、事件注入</text>
<text class="t" x="665" y="1754">加载外部脚本</text>
<text class="t" x="665" y="1762">会话劫持与钓鱼攻击</text>
<text class="t" x="648" y="1776">防御措施</text>
<text class="t" x="675" y="1770" textLength="215">输出编码：对用户输入的数据进行HTML实体编码，过滤&lt;&gt;"'等特殊字符，在HTML属性、JavaScript中输出时需要特别注意</text>
<text class="t" x="675" y="1778" textLength="165">输入验证：使用白名单方式验证输入数据，拒绝不符合要求的数据；设置HttpOnly</text>
<text class="t" x="675" y="1785">使用安全的框架</text>
<text class="t" x="620" y="1821">命令注入</text>
<text class="t" x="648" y="1796">原理</text>
<text class="t" x="665" y="1793">在用户输入中注入系统命令</text>
<text class="t" x="665" y="1800">通过 ; | &amp; 等特殊字符执行</text>
<text class="t" x="648" y="1808">常见的注入点</text>
<text class="t" x="648" y="1815">system()函数</text>
<text class="t" x="648" y="1823">exec、passthru等</text>
<text class="t" x="648" y="1839">防御方法</text>
<text class="t" x="673" y="1831" textLength="67">对用户输入进行严格过滤，避免直接执行命令</text>
<text class="t" x="673" y="1839">使用安全的API，不直接调用shell</text>
<text class="t" x="673" y="1847" textLength="62">以低权限帐户运行应用程序</text>
<text class="t" x="620" y="1863">路径遍历</text>
<text class="t" x="648" y="1855">../遍历</text>
<text class="t" x="648" y="1863">编码绕过</text>
<text class="t" x="648" y="1870">URL编码</text>
<text class="t" x="620" y="1879">HTTP头注入</text>
<text class="t" x="620" y="1888">HTTP响应拆分攻击</text>
<text class="t" x="620" y="1900">LDAP注入</text>
<text class="t" x="648" y="1895">原理</text>
<text class="t" x="648" y="1903">构造特殊的LDAP查询语句</text>
<text class="t" x="620" y="1911">XPath注入</text>
<text class="t" x="648" y="1911">XML数据</text>
<text class="t" x="620" y="1919">SSI注入</text>
<text class="t" x="620" y="1932">文件包含</text>
<text class="t" x="648" y="1928" textLength="192">PHP的include、require函数包含的文件名由用户控制时，可能包含远程恶意文件，导致执行任意代码</text>
<text class="t" x="648" y="1935">allow_url_fopen</text>
<text class="t" x="558" y="1981">绕过技巧</text>
<text class="t" x="592" y="1945" textLength="96">大小写混合、双写关键字、编码转换等方式绕过</text>
<text class="t" x="592" y="1954">空字节截断</text>
<text class="t" x="592" y="1963">宽字节注入</text>
<text class="t" x="592" y="1972">URL编码绕过</text>
<text class="t" x="592" y="1980">Unicode与双重编码</text>
<text class="t" x="592" y="1989">注释符绕过</text>
<text class="t" x="592" y="1998">使用替代函数</text>
<text class="t" x="592" y="2006">特殊字符</text>
<text class="t" x="592" y="2016">利用数据库特性绕过WAF</text>
<text class="t" x="560" y="2046">防范注入的常见措施</text>
<text class="t" x="620" y="2024">对所有用户输入进行验证</text>
<text class="t" x="620" y="2032">使用白名单过滤</text>
<text class="t" x="620" y="2042" textLength="98">对数据进行正确的转义、编码，避免注入攻击</text>
<text class="t" x="620" y="2050">最小权限</text>
<text class="t" x="620" y="2059">安全编码</text>
<text class="t" x="620" y="2069" textLength="107">使用安全测试工具对应用程序进行检测</text>
</g>
<g id="node-b7">
<text class="m" x="495" y="2211">攻击Web数据库</text>
<text class="t" x="548" y="2081">SQL注入</text>
<text class="t" x="578" y="2074" textLength="82">SQL注入是最常见的Web漏洞之一</text>
<text class="t" x="578" y="2085" textLength="177">攻击者将SQL语句插入到应用程序的输入参数中，使数据库执行恶意的SQL语句</text>
<text class="t" x="547" y="2138">发现SQL注入</text>
<text class="t" x="590" y="2094" textLength="183">在所有可能的输入点提交特殊字符，例如单引号，观察应用返回的结果，根据错误信息判断是否存在注入</text>
<text class="t" x="590" y="2126">测试方法</text>
<text class="t" x="623" y="2102">单引号</text>
<text class="t" x="623" y="2110">注释符</text>
<text class="t" x="623" y="2118">逻辑运算符</text>
<text class="t" x="623" y="2125">数学运算（加减）</text>
<text class="t" x="623" y="2133">字符串连接</text>
<text class="t" x="623" y="2140">时间延迟</text>
<text class="t" x="623" y="2149">利用OR 1=1等语句测试</text>
<text class="t" x="590" y="2160">盲注技术</text>
<text class="t" x="637" y="2156">基于布尔的盲注</text>
<text class="t" x="637" y="2164">基于时间的盲注</text>
<text class="t" x="590" y="2176">错误信息利用</text>
<text class="t" x="628" y="2171" textLength="102">通过数据库返回的错误信息获取表名和列名</text>
<text class="t" x="628" y="2179" textLength="155">SQL Server错误信息可以泄露大量的数据库结构信息，例如表名、列名</text>
<text class="t" x="590" y="2187">UNION查询</text>
<text class="t" x="625" y="2187" textLength="105">使用UNION SELECT获取其他表中的数据</text>
<text class="t" x="547" y="2227">利用SQL注入</text>
<text class="t" x="590" y="2203">数据库识别</text>
<text class="t" x="620" y="2195">MySQL</text>
<text class="t" x="642" y="2195">version()等函数</text>
<text class="t" x="620" y="2203">SQL Server</text>
<text class="t" x="650" y="2203">@@version、sysobjects系统表</text>
<text class="t" x="620" y="2212">Oracle</text>
<text class="t" x="643" y="2212">v$version表</text>
<text class="t" x="590" y="2228">利用数据库特性</text>
<text class="t" x="628" y="2219">xp_cmdshell</text>
<text class="t" x="628" y="2228">读写文件load_file</text>
<text class="t" x="628" y="2235">提权</text>
<text class="t" x="590" y="2254">常见注入工具</text>
<text class="t" x="633" y="2243">SQLMap</text>
<text class="t" x="633" y="2250">Pangolin</text>
<text class="t" x="633" y="2257">Havij</text>
<text class="t" x="633" y="2266">Absinthe</text>
<text class="t" x="547" y="2308">对策</text>
<text class="t" x="578" y="2280">参数化查询</text>
<text class="t" x="608" y="2273">预编译语句</text>
<text class="t" x="608" y="2280">绑定变量</text>
<text class="t" x="578" y="2301">输入验证</text>
<text class="t" x="610" y="2288">数据类型检查</text>
<text class="t" x="653" y="2288">对数字型参数进行类型转换</text>
<text class="t" x="653" y="2297">长度限制</text>
<text class="t" x="653" y="2304">格式</text>
<text class="t" x="678" y="2304">正则表达式</text>
<text class="t" x="578" y="2327">最小权限原则</text>
<text class="t" x="613" y="2312" textLength="67">数据库帐户应只具有最少的权限</text>
<text class="t" x="610" y="2319" textLength="82">删除或禁用不需要的扩展存储过程</text>
<text class="t" x="613" y="2327">关闭详细的错误信息</text>
<text class="t" x="610" y="2335" textLength="63">使用存储过程访问数据库</text>
<text class="t" x="613" y="2343">定期审计数据库</text>
</g>
<g id="node-b8">
<text class="m" x="488" y="2448">攻击XML Web服务</text>
<text class="t" x="560" y="2389">什么是Web服务</text>
<text class="t" x="613" y="2389">SOAP</text>
<text class="t" x="560" y="2431">攻击Web服务</text>
<text class="t" x="602" y="2403">Web服务发现</text>
<text class="t" x="653" y="2397">搜索WSDL文件</text>
<text class="t" x="653" y="2408">枚举</text>
<text class="t" x="673" y="2404" textLength="75">通过UDDI注册中心查找Web服务接口</text>
<text class="t" x="673" y="2412">DISCO文件发现</text>
<text class="t" x="602" y="2420">SOAP</text>
<text class="t" x="630" y="2420" textLength="73">使用SOAP消息与Web服务通信</text>
<text class="t" x="602" y="2436">SOAP攻击</text>
<text class="t" x="642" y="2428" textLength="123">XML注入：在SOAP消息中注入XML标签，修改数据结构</text>
<text class="t" x="642" y="2435" textLength="160">外部实体攻击（XXE）：在XML文档中引用外部实体，读取服务器上的本地文件</text>
<text class="t" x="642" y="2443" textLength="145">XPath注入：与SQL注入类似，通过构造XPath查询获取敏感数据</text>
<text class="t" x="602" y="2458">XML DoS攻击</text>
<text class="t" x="642" y="2450" textLength="75">实体扩展攻击导致解析器耗尽内存</text>
<text class="t" x="642" y="2456">递归实体引用</text>
<text class="t" x="642" y="2465">超大的XML文档</text>
<text class="t" x="558" y="2490">Web服务安全基础</text>
<text class="t" x="602" y="2474">认证</text>
<text class="t" x="602" y="2484">XML签名</text>
<text class="t" x="602" y="2499">WS-Security</text>
<text class="t" x="628" y="2491">消息加密</text>
<text class="t" x="628" y="2499">WS-Security标准</text>
<text class="t" x="628" y="2507">XML防火墙与网关</text>
</g>
<g id="node-b9">
<text class="m" x="512" y="2620">攻击Web应用管理</text>
<text class="t" x="578" y="2529">远程服务器管理</text>
<text class="t" x="628" y="2529">远程桌面</text>
<text class="t" x="578" y="2544">Web内容管理</text>
<text class="t" x="622" y="2539">FTP</text>
<text class="t" x="622" y="2548">WebDAV</text>
<text class="t" x="578" y="2595">Web应用程序管理</text>
<text class="t" x="630" y="2555">WebDAV OPTIONS查看支持的方法</text>
<text class="t" x="707" y="2555">PUT</text>
<text class="t" x="630" y="2600">攻击目标</text>
<text class="t" x="657" y="2591">常见WebDAV攻击</text>
<text class="t" x="705" y="2564">PUT方法上传</text>
<text class="t" x="705" y="2572">MOVE方法</text>
<text class="t" x="705" y="2580">DELETE方法</text>
<text class="t" x="705" y="2587">PROPFIND枚举</text>
<text class="t" x="705" y="2595">目录遍历</text>
<text class="t" x="705" y="2611">对策</text>
<text class="t" x="730" y="2603">禁用WebDAV或只允许授权用户</text>
<text class="t" x="730" y="2610" textLength="80">在IIS中禁用不必要的WebDAV方法</text>
<text class="t" x="730" y="2619" textLength="78">限制可写目录，防止上传可执行文件</text>
<text class="t" x="657" y="2631">管理接口攻击</text>
<text class="t" x="698" y="2626">默认密码</text>
<text class="t" x="698" y="2634">暴力破解</text>
<text class="t" x="578" y="2654">常见管理界面漏洞</text>
<text class="t" x="633" y="2654">管理接口暴露</text>
<text class="t" x="683" y="2642">登录</text>
<text class="t" x="683" y="2658">对策</text>
<text class="t" x="698" y="2650" textLength="89">通过IP地址限制对管理接口的访问</text>
<text class="t" x="698" y="2657" textLength="85">管理接口使用强认证并加密传输</text>
<text class="t" x="703" y="2664" textLength="94">不要在生产环境中保留调试接口</text>
<text class="t" x="578" y="2692">小结</text>
<text class="t" x="600" y="2674">Web应用管理是攻击的重点</text>
<text class="t" x="600" y="2682" textLength="122">管理界面应该限制访问，只允许来自内部网络的请求</text>
<text class="t" x="600" y="2692" textLength="117">使用强认证机制，对敏感操作记录日志</text>
<text class="t" x="600" y="2700" textLength="77">定期审计管理帐户与权限</text>
<text class="t" x="600" y="2709" textLength="213">加固：对管理应用程序进行安全加固，删除默认帐户，修改默认密码，限制管理功能的访问</text>
</g>
<g id="node-b10">
<text class="m" x="528" y="2792">攻击Web客户端</text>
<text class="t" x="588" y="2777">漏洞利用</text>
<text class="t" x="620" y="2754">浏览器漏洞</text>
<text class="t" x="660" y="2740" textLength="58">IE漏洞、Firefox漏洞</text>
<text class="t" x="660" y="2748">ActiveX</text>
<text class="t" x="660" y="2756">插件漏洞：Flash、PDF</text>
<text class="t" x="660" y="2764" textLength="53">利用漏洞执行恶意代码</text>
<text class="t" x="660" y="2772">跨域漏洞</text>
<text class="t" x="660" y="2780">内存破坏漏洞</text>
<text class="t" x="660" y="2786">其他</text>
<text class="t" x="622" y="2792">Web客户端攻击</text>
<text class="t" x="660" y="2795">跨站请求伪造</text>
<text class="t" x="660" y="2802">点击劫持攻击</text>
<text class="t" x="660" y="2810">利用浏览器缓存获取信息</text>
<text class="t" x="588" y="2824">欺骗</text>
<text class="t" x="610" y="2819">钓鱼网站</text>
<text class="t" x="610" y="2827">恶意软件</text>
<text class="t" x="588" y="2837">安全防护</text>
<text class="t" x="620" y="2837">及时更新补丁</text>
</g>
<g id="node-b11">
<text class="m" x="426" y="2878">DoS攻击</text>
<text class="t" x="468" y="2877">应用层的DoS攻击</text>
<text class="t" x="523" y="2872">应用层DoS</text>
<text class="t" x="548" y="2856">资源消耗型攻击</text>
<text class="t" x="547" y="2876">类型</text>
<text class="t" x="567" y="2864">CPU</text>
<text class="t" x="592" y="2864" textLength="83">复杂计算：正则表达式、哈希碰撞攻击</text>
<text class="t" x="567" y="2872">内存</text>
<text class="t" x="583" y="2872" textLength="79">大文件上传与XML解析</text>
<text class="t" x="567" y="2880">磁盘</text>
<text class="t" x="587" y="2880" textLength="98">日志写入、大量临时文件</text>
<text class="t" x="567" y="2887">网络</text>
<text class="t" x="523" y="2897">DoS攻击的防御措施</text>
</g>
<g id="root">
<polygon fill="#fff" stroke="#a8a8a8" stroke-width="0.8" points="111,1805 100.1,1800.1 106.4,1792 93.1,1791.3 93.7,1781.5 80.6,1785.2 75.3,1775.8 65,1783 54.7,1775.8 49.4,1785.2 36.3,1781.5 36.9,1791.3 23.6,1792 29.9,1800.1 19,1805 29.9,1809.9 23.6,1818 36.9,1818.7 36.3,1828.5 49.4,1824.8 54.7,1834.2 65,1827 75.3,1834.2 80.6,1824.8 93.7,1828.5 93.1,1818.7 106.4,1818 100.1,1809.9"/>
<text class="r" x="65" y="1804" text-anchor="middle">Web安全学习</text>
<text class="r" x="65" y="1818" text-anchor="middle" font-size="10">(By_Nezo)</text>
</g>
</svg>
